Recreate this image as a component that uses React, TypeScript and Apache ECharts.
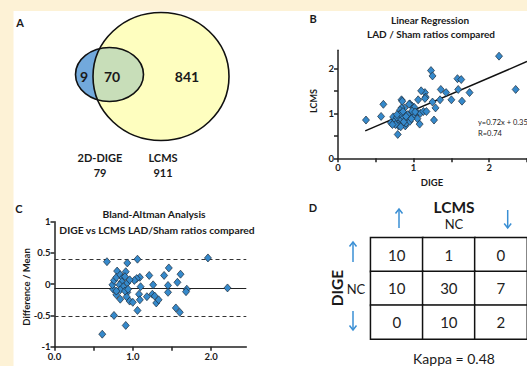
import React, { useEffect, useRef } from "react";
import * as echarts from "echarts";

// ---------- Panel A: Venn ----------
const vennSetNames = ["2D-DIGE", "LCMS"];
const vennSetTotals = [79, 911];
const vennRegionCounts = [9, 70, 841]; // only DIGE, both, only LCMS

// ---------- Panel B: linear regression ----------
const regSlope = 0.72;
const regIntercept = 0.35;
const regR = 0.74;
const regStartX = 0.36;
const regPoints: [number, number][] = [
  [0.37, 0.85], [0.57, 0.93], [0.6, 1.2], [2.13, 2.27], [2.35, 1.53], [1.23, 1.95],
  [1.25, 1.83], [1.58, 1.77], [1.63, 1.75], [1.59, 1.53], [1.74, 1.46], [1.64, 1.27],
  [1.36, 1.53], [1.43, 1.46], [1.5, 1.3], [1.35, 1.3], [1.29, 1.12], [1.27, 0.85],
  [1.15, 1.46], [1.1, 1.5], [1.16, 1.36], [1.15, 1.33], [1.25, 1.25], [1.06, 1.3],
  [0.84, 1.3], [0.95, 1.21], [0.98, 1.16], [1.01, 1.13], [0.88, 1.12], [0.84, 1.12],
  [0.82, 1.07], [0.87, 1.01], [1.05, 1.01], [1.09, 1.0], [1.13, 1.04], [1.17, 1.04],
  [0.98, 0.96], [1.01, 0.97], [1.05, 0.88], [1.08, 0.76], [0.79, 0.53], [0.7, 0.79],
  [0.73, 0.92], [0.76, 0.85], [0.78, 0.91], [0.8, 0.77], [0.84, 0.86], [0.86, 0.93],
  [0.91, 0.85], [0.94, 0.88], [0.89, 0.72], [0.8, 0.72], [0.76, 0.75], [0.82, 0.99],
  [0.78, 0.97], [0.72, 0.75], [0.9, 0.78], [0.95, 0.82], [0.92, 0.97], [0.87, 0.81],
  [0.83, 0.7], [0.97, 0.88], [0.85, 1.27], [0.94, 1.2], [0.98, 1.05], [1.02, 1.03],
  [0.86, 1.04], [0.9, 0.93],
];
const regXTicks = [0, 0.5, 1, 1.5, 2, 2.5];
const regXLabels = [0, 1, 2];
const regYTicks = [0, 0.5, 1, 1.5, 2];
const regYLabels = [0, 1, 2];

// ---------- Panel C: Bland-Altman ----------
const baBias = -0.07;
const baUpper = 0.4;
const baLower = -0.51;
const baPoints: [number, number][] = [
  [0.67, 0.36], [0.93, 0.34], [1.06, 0.4], [1.96, 0.42], [2.21, -0.06], [1.46, 0.26],
  [1.61, 0.16], [1.4, 0.14], [1.21, 0.14], [1.26, -0.01], [1.45, -0.02], [1.57, 0.03],
  [1.45, -0.13], [1.69, -0.08], [1.68, -0.12], [1.18, -0.2], [1.25, -0.16], [1.28, -0.19],
  [1.3, -0.3], [1.33, -0.25], [1.55, -0.38], [1.6, -0.45], [1.06, -0.42], [0.76, -0.5],
  [0.91, -0.66], [0.61, -0.8], [0.91, 0.2], [0.8, 0.21], [1.09, 0.11], [1.05, 0.09],
  [1.02, 0.06], [1.1, -0.04], [1.08, -0.16], [1.09, -0.25], [0.96, -0.27], [1.0, -0.29],
  [0.93, -0.13], [0.92, -0.2], [0.84, -0.24], [0.79, -0.17], [0.75, -0.08], [0.74, -0.01],
  [0.76, 0.06], [0.79, 0.11], [0.84, 0.15], [0.87, 0.1], [0.9, 0.12], [0.86, 0.04],
  [0.83, -0.01], [0.88, -0.04], [0.93, 0.02], [0.96, 0.07], [0.84, -0.09], [0.79, -0.11],
  [0.9, -0.11], [0.94, -0.08],
];
const baXTicks = [0, 0.5, 1, 1.5, 2];
const baXLabels = [0, 1, 2];
const baYTicks = [-1, -0.5, 0, 0.5, 1];

// ---------- Panel D: contingency table ----------
const tableCategories = ["up", "NC", "down"];
const tableCounts = [
  [10, 1, 0],
  [10, 30, 7],
  [0, 10, 2],
];
const kappaValue = 0.48;

const FONT = "Lato";
const INK = "#1a1a1a";
const ARROW = "#3a8fd4";

function ellipseIntersections(
  e1: { cx: number; cy: number; rx: number; ry: number },
  e2: { cx: number; cy: number; rx: number; ry: number }
) {
  const f = (t: number) => {
    const x = e1.cx + e1.rx * Math.cos(t);
    const y = e1.cy + e1.ry * Math.sin(t);
    return ((x - e2.cx) / e2.rx) ** 2 + ((y - e2.cy) / e2.ry) ** 2 - 1;
  };
  const pts: { x: number; y: number }[] = [];
  const N = 720;
  for (let i = 0; i < N; i++) {
    let a = (i / N) * Math.PI * 2;
    let b = ((i + 1) / N) * Math.PI * 2;
    if (f(a) * f(b) <= 0) {
      for (let k = 0; k < 40; k++) {
        const m = (a + b) / 2;
        if (f(a) * f(m) <= 0) b = m;
        else a = m;
      }
      const t = (a + b) / 2;
      pts.push({ x: e1.cx + e1.rx * Math.cos(t), y: e1.cy + e1.ry * Math.sin(t) });
    }
  }
  pts.sort((p, q) => p.y - q.y);
  return [pts[0], pts[pts.length - 1]];
}

function text(x: number, y: number, t: string, size: number, bold = true, extra: any = {}) {
  return {
    type: "text",
    x,
    y,
    rotation: extra.rotation || 0,
    z: 20,
    style: {
      text: t,
      fontSize: size,
      fontWeight: bold ? "bold" : "normal",
      fontFamily: FONT,
      fill: extra.fill || INK,
      align: extra.align || "center",
      verticalAlign: "middle",
    },
  };
}

function arrow(x: number, top: number, bottom: number, up: boolean) {
  const tip = up ? top : bottom;
  const d = up ? 4.5 : -4.5;
  return {
    type: "group",
    z: 20,
    children: [
      { type: "line", shape: { x1: x, y1: top, x2: x, y2: bottom }, style: { stroke: ARROW, lineWidth: 1.5 } },
      {
        type: "polyline",
        shape: { points: [[x - 3.5, tip + d], [x, tip], [x + 3.5, tip + d]] },
        style: { stroke: ARROW, lineWidth: 1.5, fill: null },
      },
    ],
  };
}

export default function App() {
  const ref = useRef<HTMLDivElement>(null);

  useEffect(() => {
    if (!ref.current) return;
    const chart = echarts.init(ref.current, null, { renderer: "svg" });

    const E1 = { cx: 109.5, cy: 74.5, rx: 34, ry: 27 };
    const E2 = { cx: 161, cy: 76.5, rx: 68, ry: 64 };
    const [pt, pb] = ellipseIntersections(E1, E2);
    const lensD = `M ${pt.x} ${pt.y} A ${E1.rx} ${E1.ry} 0 1 1 ${pb.x} ${pb.y} A ${E2.rx} ${E2.ry} 0 0 1 ${pt.x} ${pt.y} Z`;
    echarts.graphic.registerShape("vennLens", echarts.graphic.extendPath(lensD, {}) as any);

    const axisLineStyle = { lineStyle: { color: "#222", width: 1.5 } };
    const tickStyle = { length: 4, lineStyle: { color: "#222", width: 1.5 } };
    const labelBase = { fontSize: 9.5, fontWeight: "bold", color: INK, fontFamily: FONT, margin: 4 };

    const regLine = [
      [regStartX, regSlope * regStartX + regIntercept],
      [2.5, regSlope * 2.5 + regIntercept],
    ];

    const heatData: [number, number, number][] = [];
    tableCounts.forEach((row, r) => row.forEach((v, c) => heatData.push([c, r, v])));

    const option: any = {
      animation: false,
      backgroundColor: "#ffffff",
      textStyle: { fontFamily: FONT },
      grid: [
        { left: 338, top: 50.3, width: 200, height: 108 },
        { left: 54.5, top: 221.7, width: 191.8, height: 125 },
        { left: 370.7, top: 237.7, width: 166.5, height: 101.3 },
      ],
      xAxis: [
        {
          gridIndex: 0, type: "value", min: 0, max: 2.5, interval: 0.5,
          axisLine: axisLineStyle,
          axisTick: { ...tickStyle, customValues: regXTicks },
          axisLabel: { ...labelBase, customValues: regXLabels, formatter: (v: number) => (Number.isInteger(v) ? String(v) : "") },
          splitLine: { show: false },
        },
        {
          gridIndex: 1, type: "value", min: 0, max: 2.45, interval: 0.5,
          axisLine: { onZero: false, ...axisLineStyle },
          axisTick: { ...tickStyle, customValues: baXTicks },
          axisLabel: { ...labelBase, margin: 5, customValues: baXLabels, formatter: (v: number) => (Number.isInteger(v) ? v.toFixed(1) : "") },
          splitLine: { show: false },
        },
        { gridIndex: 2, type: "category", data: tableCategories, show: false },
      ],
      yAxis: [
        {
          gridIndex: 0, type: "value", min: 0, max: 2.4, interval: 0.5,
          axisLine: { show: true, ...axisLineStyle },
          axisTick: { show: true, ...tickStyle, customValues: regYTicks },
          axisLabel: { ...labelBase, customValues: regYLabels, formatter: (v: number) => (Number.isInteger(v) ? String(v) : "") },
          splitLine: { show: false },
        },
        {
          gridIndex: 1, type: "value", min: -1, max: 1, interval: 0.5,
          axisLine: { show: true, ...axisLineStyle },
          axisTick: { show: true, ...tickStyle, customValues: baYTicks },
          axisLabel: { ...labelBase, customValues: baYTicks, formatter: (v: number) => String(v) },
          splitLine: { show: false },
        },
        { gridIndex: 2, type: "category", data: tableCategories, inverse: true, show: false },
      ],
      visualMap: {
        show: false, seriesIndex: 3, min: 0, max: 30, dimension: 2,
        inRange: { color: ["#ffffff", "#ffffff"] },
      },
      series: [
        {
          type: "line", xAxisIndex: 0, yAxisIndex: 0, data: regLine, showSymbol: false, symbol: "none",
          lineStyle: { color: "#111", width: 1.5 }, z: 2, silent: true,
        },
        {
          type: "scatter", xAxisIndex: 0, yAxisIndex: 0, data: regPoints, symbol: "diamond", symbolSize: [7, 8],
          itemStyle: { color: "#3589cb", borderColor: "#1d2b3a", borderWidth: 0.7, opacity: 1 }, z: 3,
        },
        {
          type: "scatter", xAxisIndex: 1, yAxisIndex: 1, data: baPoints, symbol: "diamond", symbolSize: [7, 8],
          itemStyle: { color: "#3589cb", borderColor: "#1d2b3a", borderWidth: 0.7, opacity: 1 }, z: 3,
          markLine: {
            silent: true, symbol: "none", label: { show: false }, z: 2,
            data: [
              { yAxis: baBias, lineStyle: { type: "solid", color: "#222", width: 1.2 } },
              { yAxis: baUpper, lineStyle: { type: [4, 3], color: "#333", width: 1 } },
              { yAxis: baLower, lineStyle: { type: [4, 3], color: "#333", width: 1 } },
            ],
          },
        },
        {
          type: "heatmap", xAxisIndex: 2, yAxisIndex: 2, data: heatData,
          itemStyle: { color: "#ffffff", borderColor: "#111", borderWidth: 1.5 },
          label: { show: true, fontSize: 15, color: "#222", fontFamily: FONT },
        },
      ],
      graphic: [
        { type: "rect", shape: { x: 0, y: 0, width: 527, height: 11 }, style: { fill: "#fdf2d6" }, z: 1 },
        { type: "rect", shape: { x: 0, y: 0, width: 13.5, height: 366 }, style: { fill: "#fdf2d6" }, z: 1 },
        { type: "ellipse", shape: E2, style: { fill: "#fefebf" }, z: 2 },
        { type: "ellipse", shape: E1, style: { fill: "#72a9dc" }, z: 3 },
        { type: "vennLens", x: 0, y: 0, style: { fill: "#c8deb9" }, z: 4 },
        { type: "ellipse", shape: E2, style: { fill: null, stroke: "#111", lineWidth: 1.6 }, z: 5 },
        { type: "ellipse", shape: E1, style: { fill: null, stroke: "#111", lineWidth: 1.6 }, z: 5 },
        text(20, 22, "A", 11),
        text(84, 76, String(vennRegionCounts[0]), 14),
        text(112, 76, String(vennRegionCounts[1]), 14),
        text(187, 76, String(vennRegionCounts[2]), 14),
        text(100, 157, vennSetNames[0], 11),
        text(100, 172, String(vennSetTotals[0]), 11),
        text(163, 157, vennSetNames[1], 11),
        text(163, 172, String(vennSetTotals[1]), 11),

        text(313, 18, "B", 11),
        text(430, 20, "Linear Regression", 10),
        text(431, 34, "LAD / Sham ratios compared", 10),
        text(313, 101, "LCMS", 9, true, { rotation: Math.PI / 2 }),
        text(432, 182, "DIGE", 9.5),
        text(478, 122, `y=${regSlope}x + ${regIntercept}`, 7.5, false, { align: "left" }),
        text(478, 133, `R=${regR}`, 7.5, false, { align: "left" }),

        text(19, 208, "C", 11),
        text(154, 214, "Bland-Altman Analysis", 10.3),
        text(157, 230, "DIGE vs LCMS LAD/Sham ratios compared", 10.3),
        text(26, 287, "Difference / Mean", 9.5, true, { rotation: Math.PI / 2 }),
        text(150, 370, "Mean", 9.5),

        text(313, 207, "D", 11),
        text(454, 207, "LCMS", 15.5),
        text(454, 224, "NC", 13, false),
        arrow(399, 209, 228, true),
        arrow(507.7, 210, 228, false),
        text(337, 288, "DIGE", 15.5, true, { rotation: Math.PI / 2 }),
        text(356, 289, "NC", 13, false),
        arrow(353, 242, 262, true),
        arrow(353, 311, 330, false),
        text(454, 358, `Kappa = ${kappaValue}`, 14, false),
      ],
    };

    chart.setOption(option);
    return () => chart.dispose();
  }, []);

  return (
    <div
      ref={ref}
      style={{ position: "fixed", left: 0, top: 0, width: 527, height: 366, background: "#fff" }}
    />
  );
}
